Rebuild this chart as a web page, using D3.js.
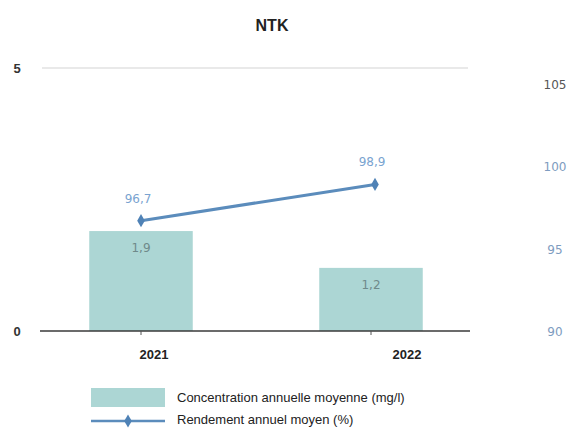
<!DOCTYPE html>
<html><head><meta charset="utf-8">
<script src="https://cdn.jsdelivr.net/npm/d3@7"></script>
<style>body{margin:0;background:#fff}svg{display:block}</style>
</head><body>
<svg id="c" width="581" height="432"></svg>
<script>
const categories = ["2021", "2022"];
const concentration = [1.9, 1.2];
const rendement = [96.7, 98.9];
const leftTicks = [0, 5];
const rightTicks = [90, 95, 100, 105];
const concLabels = ["1,9", "1,2"];
const rendLabels = ["96,7", "98,9"];
const title = "NTK";
const legendLabels = ["Concentration annuelle moyenne (mg/l)", "Rendement annuel moyen (%)"];

const svg = d3.select("#c");
const x = d3.scaleBand().domain(categories).range([26, 486]).paddingInner(0.55).paddingOuter(0.275);
const yL = d3.scaleLinear().domain([0, 5]).range([331, 68]);
const yR = d3.scaleLinear().domain([90, 105]).range([331, 84]);

svg.append("text").attr("x", 272).attr("y", 31).attr("text-anchor", "middle")
  .attr("font-family", "Liberation Sans, Arial, sans-serif").attr("font-weight", "bold")
  .attr("font-size", 16).attr("fill", "#222").text(title);

// gridline at top
svg.append("line").attr("x1", 42).attr("x2", 468).attr("y1", yL(5)).attr("y2", yL(5))
  .attr("stroke", "#d4d4d4").attr("stroke-width", 1.2);

// left axis labels
svg.append("g").selectAll("text").data(leftTicks).join("text")
  .attr("x", 17).attr("y", d => yL(d) + 5).attr("text-anchor", "middle")
  .attr("font-family", "Liberation Sans, Arial, sans-serif").attr("font-weight", "bold")
  .attr("font-size", 13).attr("fill", "#333").text(d => d);

// right axis labels
svg.append("g").selectAll("text").data(rightTicks).join("text")
  .attr("x", 555).attr("y", d => yR(d) + 5).attr("text-anchor", "middle")
  .attr("font-family", "DejaVu Sans, sans-serif").attr("font-size", 12)
  .attr("fill", d => d === 105 ? "#555" : "#7e9cc0").text(d => d);

// bars
svg.append("g").selectAll("rect").data(categories).join("rect")
  .attr("x", d => x(d)).attr("width", x.bandwidth())
  .attr("y", (d, i) => yL(concentration[i]))
  .attr("height", (d, i) => yL(0) - yL(concentration[i]))
  .attr("fill", "#acd6d4");

// baseline
svg.append("line").attr("x1", 40).attr("x2", 470).attr("y1", 331).attr("y2", 331)
  .attr("stroke", "#3a3a3a").attr("stroke-width", 1.6);
svg.append("g").selectAll("line").data(categories).join("line")
  .attr("x1", d => x(d) + x.bandwidth() / 2).attr("x2", d => x(d) + x.bandwidth() / 2)
  .attr("y1", 331).attr("y2", 335).attr("stroke", "#555");

// bar labels
svg.append("g").selectAll("text").data(categories).join("text")
  .attr("x", d => x(d) + x.bandwidth() / 2)
  .attr("y", (d, i) => yL(concentration[i]) + 21).attr("text-anchor", "middle")
  .attr("font-family", "DejaVu Sans, sans-serif").attr("font-size", 12)
  .attr("fill", "#6f8a8a").text((d, i) => concLabels[i]);

// category labels
svg.append("g").selectAll("text").data(categories).join("text")
  .attr("x", (d, i) => x(d) + x.bandwidth() / 2 + (i === 0 ? 13 : 36)).attr("y", 359)
  .attr("text-anchor", "middle")
  .attr("font-family", "Liberation Sans, Arial, sans-serif").attr("font-weight", "bold")
  .attr("font-size", 13).attr("fill", "#222").text(d => d);

// line
const cx = (d, i) => x(d) + x.bandwidth() / 2 + (i === 1 ? 4 : 0);
const line = d3.line().x((d, i) => cx(categories[i], i)).y(d => yR(d));
svg.append("path").datum(rendement).attr("d", line)
  .attr("fill", "none").attr("stroke", "#5b8cbc").attr("stroke-width", 3);
svg.append("g").selectAll("path").data(rendement).join("path")
  .attr("transform", (d, i) => `translate(${cx(categories[i], i)},${yR(d)})`)
  .attr("d", d3.symbol(d3.symbolDiamond, 50)).attr("fill", "#4f82b6");
svg.append("g").selectAll("text").data(rendement).join("text")
  .attr("x", (d, i) => cx(categories[i], i) - 3).attr("y", d => yR(d) - 18)
  .attr("text-anchor", "middle")
  .attr("font-family", "DejaVu Sans, sans-serif").attr("font-size", 12)
  .attr("fill", "#7aa3d0").text((d, i) => rendLabels[i]);

// legend
svg.append("rect").attr("x", 91).attr("y", 388).attr("width", 74).attr("height", 19).attr("fill", "#acd6d4");
svg.append("line").attr("x1", 91).attr("x2", 165).attr("y1", 421).attr("y2", 421)
  .attr("stroke", "#5b8cbc").attr("stroke-width", 2.5);
svg.append("path").attr("transform", "translate(128,421)")
  .attr("d", d3.symbol(d3.symbolDiamond, 50)).attr("fill", "#4f82b6");
svg.append("g").selectAll("text").data(legendLabels).join("text")
  .attr("x", 177).attr("y", (d, i) => 402 + i * 22)
  .attr("font-family", "Liberation Sans, Arial, sans-serif")
  .attr("font-size", 13).attr("fill", "#222").text(d => d);
</script>
</body></html>
